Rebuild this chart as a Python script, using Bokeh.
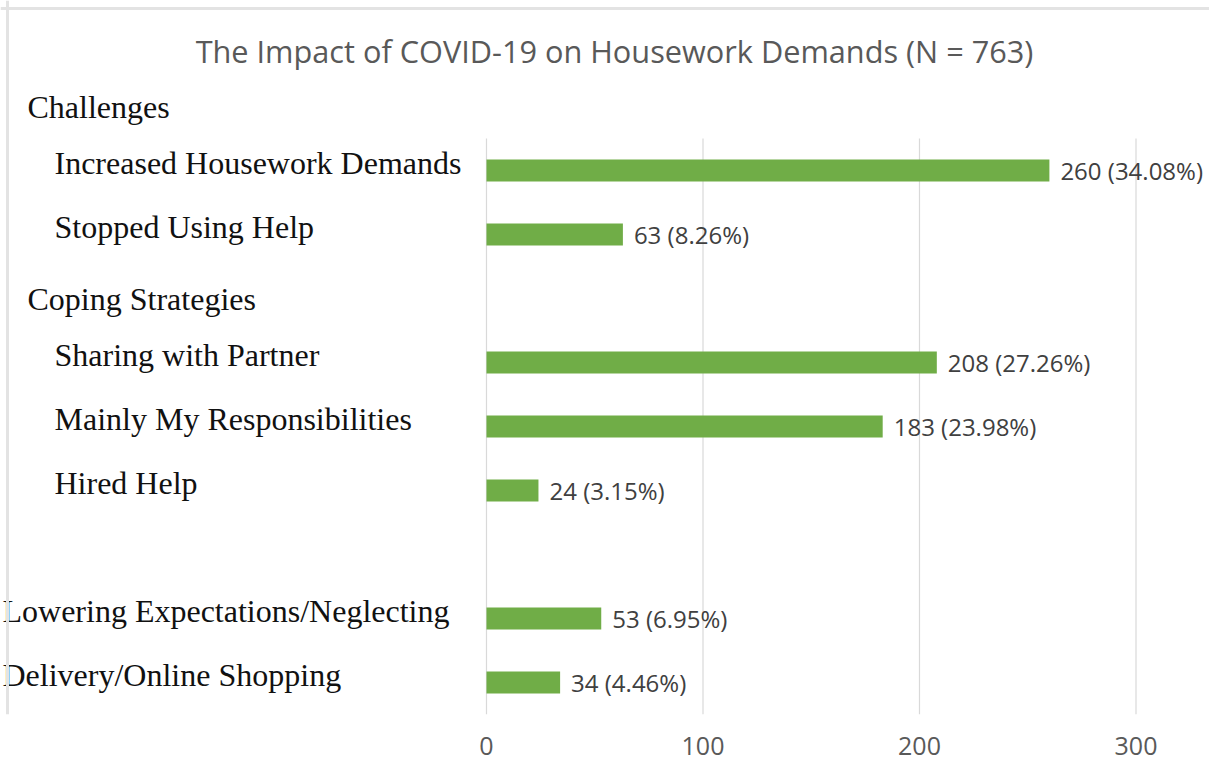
from bokeh.plotting import figure
from bokeh.models import Range1d, FixedTicker, ColumnDataSource, Span
from bokeh.core.properties import value
from bokeh.embed import file_html
from bokeh.resources import INLINE

# ---------------- data ----------------
title_text = "The Impact of COVID-19 on Housework Demands (N = 763)"
row_labels = [
    "Challenges",
    "Increased Housework Demands",
    "Stopped Using Help",
    "Coping Strategies",
    "Sharing with Partner",
    "Mainly My Responsibilities",
    "Hired Help",
    "",
    "Lowering Expectations/Neglecting",
    "Delivery/Online Shopping",
]
row_kinds = ["header", "item", "item", "header", "item", "item", "item", "gap", "item_b", "item_b"]
counts = [None, 260, 63, None, 208, 183, 24, None, 53, 34]
percents = [None, 34.08, 8.26, None, 27.26, 23.98, 3.15, None, 6.95, 4.46]
x_ticks = [0, 100, 200, 300]

# ---------------- layout (pixels) ----------------
W, H = 1209, 770
BOTTOM = 56
FRAME_H = H - BOTTOM
PX_PER_UNIT = 2.165
ZERO_X = 486
ROW_PX = 64
FIRST_ROW_Y = 106
TITLE_X, TITLE_Y = 614, 50
BORDER_X, BORDER_Y = 7, 8
BAR_PX = 22
indent_px = {"header": 27, "item": 54, "item_b": 2}

GREEN = "#70AD47"
GRID = "#d9d9d9"


def px_to_x(px):
    return (px - ZERO_X) / PX_PER_UNIT


def px_to_y(py):
    return (py - FIRST_ROW_Y) / ROW_PX


x_range = Range1d(px_to_x(0), px_to_x(W))
y_range = Range1d(px_to_y(FRAME_H), px_to_y(0))

p = figure(width=W, height=H, x_range=x_range, y_range=y_range,
           output_backend="svg", toolbar_location=None, title=None,
           y_axis_location=None, min_border_left=0, min_border_right=0,
           min_border_top=0, min_border_bottom=BOTTOM)
p.outline_line_color = None
p.xgrid.visible = False
p.ygrid.visible = False
p.background_fill_color = "white"
p.border_fill_color = "white"

# chart-area border (left and top edges)
p.add_layout(Span(location=px_to_x(BORDER_X), dimension="height", line_color="#e3e3e3", line_width=3))
p.add_layout(Span(location=px_to_y(BORDER_Y), dimension="width", line_color="#e3e3e3", line_width=3))

rows = list(range(len(row_labels)))
bar_rows = [r for r, c in zip(rows, counts) if c is not None]
bar_vals = [c for c in counts if c is not None]
bar_pcts = [pc for pc in percents if pc is not None]

# gridlines spanning the bar rows only
y_top = min(bar_rows) - 0.5
y_bot = max(bar_rows) + 0.5
p.segment(x0=x_ticks, x1=x_ticks, y0=[y_top] * len(x_ticks), y1=[y_bot] * len(x_ticks),
          line_color=GRID, line_width=1.2)

# bars
bsrc = ColumnDataSource(dict(y=bar_rows, right=bar_vals,
                             lab=[f"{v} ({pc:.2f}%)" for v, pc in zip(bar_vals, bar_pcts)]))
p.hbar(y="y", left=0, right="right", height=BAR_PX / ROW_PX, source=bsrc,
       fill_color=GREEN, line_color=None)
p.text(x="right", y="y", text="lab", source=bsrc, x_offset=11,
       text_baseline="middle", text_align="left",
       text_font=value("Open Sans"), text_font_size="24px", text_color="#404040")

# row labels (serif)
lab_rows = [r for r, k in zip(rows, row_kinds) if k != "gap"]
for kind in ["header", "item", "item_b"]:
    rr = [r for r in lab_rows if row_kinds[r] == kind]
    p.text(x=[px_to_x(0)] * len(rr), y=rr, text=[row_labels[r] for r in rr],
           x_offset=indent_px[kind], y_offset=(0 if kind == "header" else -8),
           text_baseline="middle", text_align="left",
           text_font=value("Liberation Serif"), text_font_size="32px", text_color="#111111")

# title
p.text(x=[px_to_x(TITLE_X)], y=[px_to_y(TITLE_Y)],
       text=[title_text], text_align="center", text_baseline="middle",
       text_font=value("Open Sans"), text_font_size="30.7px", text_color="#595959")

# x axis
ax = p.xaxis[0]
ax.ticker = FixedTicker(ticks=x_ticks)
ax.axis_line_color = None
ax.major_tick_line_color = None
ax.minor_tick_line_color = None
ax.major_tick_out = 0
ax.major_label_standoff = 22
ax.major_label_text_font = "Open Sans"
ax.major_label_text_font_size = "25px"
ax.major_label_text_color = "#595959"

open("out.html", "w").write(file_html(p, INLINE))
